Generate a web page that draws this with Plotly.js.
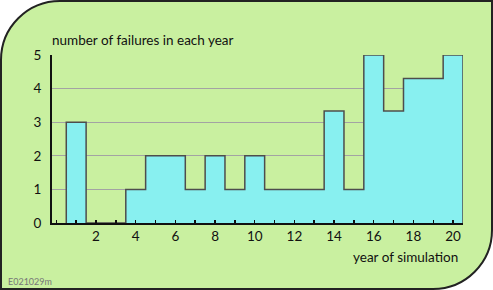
<!DOCTYPE html>
<html><head><meta charset="utf-8">
<script src="https://cdn.plot.ly/plotly-3.0.1.min.js"></script>
<style>
html,body{margin:0;padding:0;background:#fff;}
#wrap{position:relative;width:493px;height:290px;}
#bg{position:absolute;left:0;top:0;width:489px;height:286px;background:#c9f0a0;border:2px solid #222;border-radius:60px 0 60px 0;}
#chart{position:absolute;left:0;top:0;width:493px;height:290px;}
</style></head>
<body><div id="wrap"><div id="bg"></div><div id="chart"></div></div>
<script>
const years = [1,2,3,4,5,6,7,8,9,10,11,12,13,14,15,16,17,18,19,20];
const failures = [3,0,0,1,2,2,1,2,1,2,1,1,1,3.33,1,5,3.33,4.3,4.3,5];
const xTickVals = [2,4,6,8,10,12,14,16,18,20];
const yTickVals = [0,1,2,3,4,5];

// build step outline from bin edges
const xs = [years[0]-0.5], ys = [0];
years.forEach((yr,i)=>{ xs.push(yr-0.5); ys.push(failures[i]); });
xs.push(years[years.length-1]+0.5); ys.push(0);

const font = {family:'Lato, "Open Sans", sans-serif', size:13.5, color:'#111'};
const trace = {x:xs, y:ys, type:'scatter', mode:'lines', line:{shape:'hv', color:'#4d4d4d', width:1.5},
  fill:'tozeroy', fillcolor:'#88f0f0', hoverinfo:'skip'};
const layout = {
  width:493, height:290, margin:{l:52, r:30, t:55, b:67},
  paper_bgcolor:'rgba(0,0,0,0)', plot_bgcolor:'rgba(0,0,0,0)',
  font:font, showlegend:false,
  title:{text:'number of failures in each year', x:52/493, xanchor:'left', xref:'container', y:1-40/290, yanchor:'middle', yref:'container', font:font},
  xaxis:{range:[-0.22,20.5], tickvals:xTickVals, ticktext:xTickVals.map(String), ticks:'inside', ticklen:3, tickwidth:1.5, tickcolor:'#111',
    minor:{dtick:1, tick0:0, ticks:'inside', ticklen:3, tickwidth:1.5, tickcolor:'#111', showgrid:false},
    showline:true, linecolor:'#111', linewidth:2, showgrid:false, zeroline:false, fixedrange:true, ticklabelstandoff:0, layer:'above traces'},
  yaxis:{range:[0,5], tickvals:yTickVals, ticktext:yTickVals.map(String), ticks:'', showline:true, linecolor:'#111', linewidth:2,
    showgrid:true, gridcolor:'#a3a3a3', gridwidth:1, zeroline:false, fixedrange:true, ticklabelstandoff:6},
  annotations:[
    {text:'year of simulation', xref:'paper', yref:'paper', x:0.993, y:-0.205, xanchor:'right', yanchor:'middle', showarrow:false, font:font},
    {text:'E021029m', xref:'paper', yref:'paper', x:-0.112, y:-0.348, xanchor:'left', yanchor:'middle', showarrow:false, font:{family:font.family, size:9, color:'#777'}}
  ]
};
Plotly.newPlot('chart',[trace],layout,{displayModeBar:false, staticPlot:true});
</script></body></html>
